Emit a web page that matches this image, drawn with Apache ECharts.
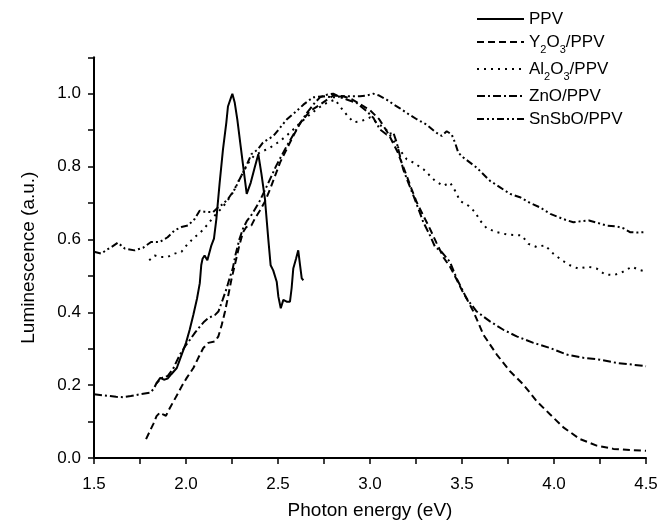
<!DOCTYPE html>
<html>
<head>
<meta charset="utf-8">
<script src="https://cdn.jsdelivr.net/npm/echarts@6/dist/echarts.min.js"></script>
<style>
html,body{margin:0;padding:0;background:#fff;}
#chart{width:668px;height:525px;}
</style>
</head>
<body>
<div id="chart"></div>
<script>
// Series names
var seriesNames = ['PPV', 'Y2O3/PPV', 'Al2O3/PPV', 'ZnO/PPV', 'SnSbO/PPV'];

// Data: [photon energy (eV), luminescence (a.u.)]
var ppv = [[1.84,0.205],[1.86,0.22],[1.88,0.215],[1.90,0.218],[1.92,0.23],[1.95,0.247],[1.97,0.275],[2.00,0.316],[2.02,0.352],[2.04,0.393],[2.06,0.438],[2.075,0.48],[2.083,0.53],[2.09,0.547],[2.101,0.556],[2.116,0.543],[2.138,0.584],[2.152,0.602],[2.165,0.656],[2.183,0.756],[2.201,0.847],[2.219,0.92],[2.228,0.965],[2.245,0.99],[2.252,1.0],[2.265,0.975],[2.279,0.929],[2.297,0.856],[2.315,0.784],[2.33,0.725],[2.352,0.756],[2.373,0.797],[2.393,0.834],[2.41,0.78],[2.429,0.711],[2.447,0.602],[2.46,0.529],[2.474,0.515],[2.493,0.484],[2.502,0.443],[2.515,0.411],[2.529,0.434],[2.547,0.429],[2.565,0.429],[2.574,0.466],[2.583,0.52],[2.598,0.547],[2.61,0.57],[2.62,0.529],[2.629,0.493],[2.638,0.488]];

var y2o3 = [[1.783,0.052],[1.80,0.07],[1.822,0.093],[1.84,0.115],[1.859,0.125],[1.875,0.12],[1.891,0.116],[1.913,0.138],[1.935,0.158],[1.958,0.179],[1.98,0.20],[2.004,0.22],[2.04,0.247],[2.067,0.275],[2.094,0.302],[2.121,0.316],[2.158,0.32],[2.176,0.334],[2.194,0.365],[2.212,0.402],[2.23,0.447],[2.248,0.493],[2.265,0.529],[2.29,0.584],[2.31,0.62],[2.328,0.634],[2.355,0.638],[2.373,0.656],[2.40,0.678],[2.43,0.705],[2.457,0.738],[2.511,0.811],[2.565,0.866],[2.62,0.92],[2.674,0.952],[2.728,0.97],[2.77,0.985],[2.80,0.995],[2.855,0.993],[2.90,0.985],[2.95,0.97],[3.0,0.955],[3.05,0.93],[3.10,0.89],[3.15,0.84],[3.2,0.774],[3.226,0.738],[3.254,0.702],[3.29,0.665],[3.326,0.629],[3.362,0.59],[3.40,0.55],[3.435,0.525],[3.471,0.49],[3.50,0.46],[3.525,0.438],[3.562,0.402],[3.617,0.338],[3.689,0.284],[3.761,0.238],[3.833,0.202],[3.906,0.156],[3.978,0.12],[4.051,0.084],[4.141,0.052],[4.232,0.034],[4.323,0.025],[4.413,0.022],[4.50,0.02]];

var al2o3 = [[1.80,0.543],[1.83,0.556],[1.857,0.552],[1.90,0.552],[1.938,0.561],[1.975,0.566],[2.01,0.588],[2.047,0.606],[2.09,0.625],[2.12,0.643],[2.156,0.665],[2.19,0.684],[2.22,0.702],[2.255,0.729],[2.29,0.765],[2.32,0.793],[2.34,0.811],[2.37,0.83],[2.40,0.838],[2.457,0.852],[2.511,0.87],[2.565,0.893],[2.62,0.92],[2.674,0.943],[2.72,0.961],[2.765,0.975],[2.81,0.984],[2.837,0.965],[2.877,0.94],[2.91,0.922],[2.946,0.924],[2.98,0.93],[3.0,0.935],[3.04,0.92],[3.09,0.90],[3.13,0.87],[3.163,0.845],[3.2,0.82],[3.236,0.811],[3.29,0.793],[3.353,0.761],[3.398,0.747],[3.435,0.756],[3.462,0.734],[3.489,0.706],[3.534,0.693],[3.571,0.675],[3.598,0.652],[3.634,0.631],[3.689,0.62],[3.75,0.613],[3.824,0.611],[3.861,0.588],[3.906,0.579],[3.951,0.584],[3.996,0.561],[4.042,0.543],[4.087,0.529],[4.132,0.52],[4.187,0.525],[4.232,0.52],[4.277,0.504],[4.323,0.502],[4.368,0.509],[4.423,0.525],[4.467,0.516],[4.50,0.512]];

var zno = [[1.5,0.175],[1.55,0.172],[1.587,0.17],[1.62,0.168],[1.659,0.167],[1.70,0.17],[1.75,0.175],[1.804,0.179],[1.825,0.19],[1.84,0.206],[1.87,0.22],[1.90,0.225],[1.93,0.245],[1.967,0.284],[2.0,0.31],[2.022,0.325],[2.05,0.345],[2.076,0.361],[2.10,0.375],[2.121,0.384],[2.158,0.393],[2.176,0.402],[2.199,0.434],[2.221,0.466],[2.239,0.497],[2.254,0.52],[2.27,0.56],[2.29,0.60],[2.31,0.63],[2.33,0.65],[2.36,0.67],[2.40,0.705],[2.44,0.747],[2.49,0.802],[2.547,0.856],[2.60,0.902],[2.656,0.947],[2.70,0.975],[2.728,0.99],[2.77,0.998],[2.80,1.0],[2.84,0.99],[2.873,0.984],[2.927,0.975],[2.982,0.952],[3.018,0.934],[3.054,0.902],[3.09,0.888],[3.127,0.893],[3.145,0.866],[3.163,0.829],[3.18,0.793],[3.208,0.756],[3.236,0.72],[3.263,0.684],[3.29,0.647],[3.326,0.611],[3.353,0.58],[3.389,0.566],[3.435,0.538],[3.471,0.493],[3.525,0.438],[3.58,0.402],[3.652,0.375],[3.725,0.352],[3.797,0.334],[3.888,0.316],[3.978,0.302],[4.069,0.284],[4.16,0.275],[4.25,0.27],[4.341,0.261],[4.431,0.256],[4.50,0.252]];

var snsbo = [[1.5,0.566],[1.54,0.561],[1.57,0.572],[1.594,0.579],[1.63,0.591],[1.667,0.575],[1.72,0.57],[1.766,0.577],[1.81,0.593],[1.857,0.593],[1.90,0.606],[1.938,0.625],[1.975,0.634],[2.01,0.638],[2.047,0.656],[2.074,0.679],[2.10,0.676],[2.147,0.675],[2.174,0.688],[2.20,0.697],[2.228,0.711],[2.265,0.738],[2.30,0.774],[2.328,0.802],[2.355,0.834],[2.39,0.847],[2.418,0.866],[2.475,0.884],[2.547,0.929],[2.60,0.952],[2.638,0.97],[2.69,0.99],[2.75,0.993],[2.80,0.99],[2.855,0.993],[2.90,0.993],[2.946,0.993],[2.98,0.995],[3.018,1.0],[3.05,0.995],[3.09,0.984],[3.13,0.97],[3.163,0.96],[3.2,0.947],[3.254,0.93],[3.308,0.915],[3.36,0.893],[3.39,0.884],[3.417,0.897],[3.444,0.888],[3.462,0.866],[3.48,0.838],[3.507,0.825],[3.58,0.797],[3.652,0.761],[3.707,0.743],[3.761,0.725],[3.815,0.716],[3.87,0.70],[3.924,0.688],[3.98,0.67],[4.05,0.656],[4.105,0.647],[4.15,0.65],[4.19,0.652],[4.24,0.645],[4.286,0.638],[4.34,0.636],[4.38,0.63],[4.413,0.62],[4.45,0.619],[4.495,0.62]];

// Axis ticks
var xMin = 1.5, xMax = 4.5, xStep = 0.25;
var yMin = 0, yMax = 1.1, yStep = 0.1;

var FONT = 'Liberation Sans, Arial, Helvetica, sans-serif';
var chart = echarts.init(document.getElementById('chart'), null, {renderer: 'canvas'});

function mkSeries(name, data, type, width) {
  return {
    name: name, type: 'line', data: data, showSymbol: false, symbol: 'none',
    smooth: false, animation: false,
    lineStyle: {color: '#000', width: width, type: type, cap: 'butt'},
    itemStyle: {color: '#000'}
  };
}

var legendRich = {
  n: {fontSize: 17, fontFamily: FONT, color: '#000', verticalAlign: 'bottom', lineHeight: 18},
  s: {fontSize: 11, fontFamily: FONT, color: '#000', verticalAlign: 'bottom', lineHeight: 12, padding: [0,0,-4,0]}
};

var option = {
  backgroundColor: '#fff',
  animation: false,
  grid: {left: 94, right: 22, top: 57.3, bottom: 64.3, containLabel: false},
  legend: {
    orient: 'vertical', left: 471, top: 6,
    itemWidth: 47, itemHeight: 14, itemGap: 6,
    itemStyle: {opacity: 0},
    textStyle: {fontSize: 17, fontFamily: FONT, color: '#000', rich: legendRich},
    formatter: function (name) {
      if (name === 'Y2O3/PPV') return '{n|Y}{s|2}{n|O}{s|3}{n|/PPV}';
      if (name === 'Al2O3/PPV') return '{n|Al}{s|2}{n|O}{s|3}{n|/PPV}';
      return '{n|' + name + '}';
    },
    data: seriesNames
  },
  xAxis: {
    type: 'value', min: xMin, max: xMax, interval: xStep,
    name: 'Photon energy (eV)', nameLocation: 'middle', nameGap: 43,
    nameTextStyle: {fontSize: 19, fontFamily: FONT, color: '#000'},
    axisLine: {show: true, onZero: false, lineStyle: {color: '#000', width: 2}},
    axisTick: {show: true, inside: false, length: 6, lineStyle: {color: '#000', width: 1.5}},
    splitLine: {show: false},
    axisLabel: {
      fontSize: 17, fontFamily: FONT, color: '#000', margin: 18,
      formatter: function (v) {
        var k = Math.round(v * 4);
        return (k % 2 === 0) ? (k / 4).toFixed(1) : '';
      }
    }
  },
  yAxis: {
    type: 'value', min: yMin, max: yMax, interval: yStep,
    name: 'Luminescence (a.u.)', nameLocation: 'middle', nameGap: 56,
    nameTextStyle: {fontSize: 19, fontFamily: FONT, color: '#000'},
    axisLine: {show: true, onZero: false, lineStyle: {color: '#000', width: 2}},
    axisTick: {show: true, inside: false, length: 6, lineStyle: {color: '#000', width: 1.5}},
    splitLine: {show: false},
    axisLabel: {
      fontSize: 17, fontFamily: FONT, color: '#000', margin: 13,
      formatter: function (v) {
        var k = Math.round(v * 10);
        return (k % 2 === 0 && k <= 10) ? (k / 10).toFixed(1) : '';
      }
    }
  },
  series: [
    mkSeries(seriesNames[0], ppv, 'solid', 2),
    mkSeries(seriesNames[1], y2o3, [7, 4], 2),
    mkSeries(seriesNames[2], al2o3, [2, 5], 2),
    mkSeries(seriesNames[3], zno, [8, 3, 2, 3], 2),
    mkSeries(seriesNames[4], snsbo, [7, 3, 2, 3, 2, 3], 2)
  ]
};
chart.setOption(option);
</script>
</body>
</html>
